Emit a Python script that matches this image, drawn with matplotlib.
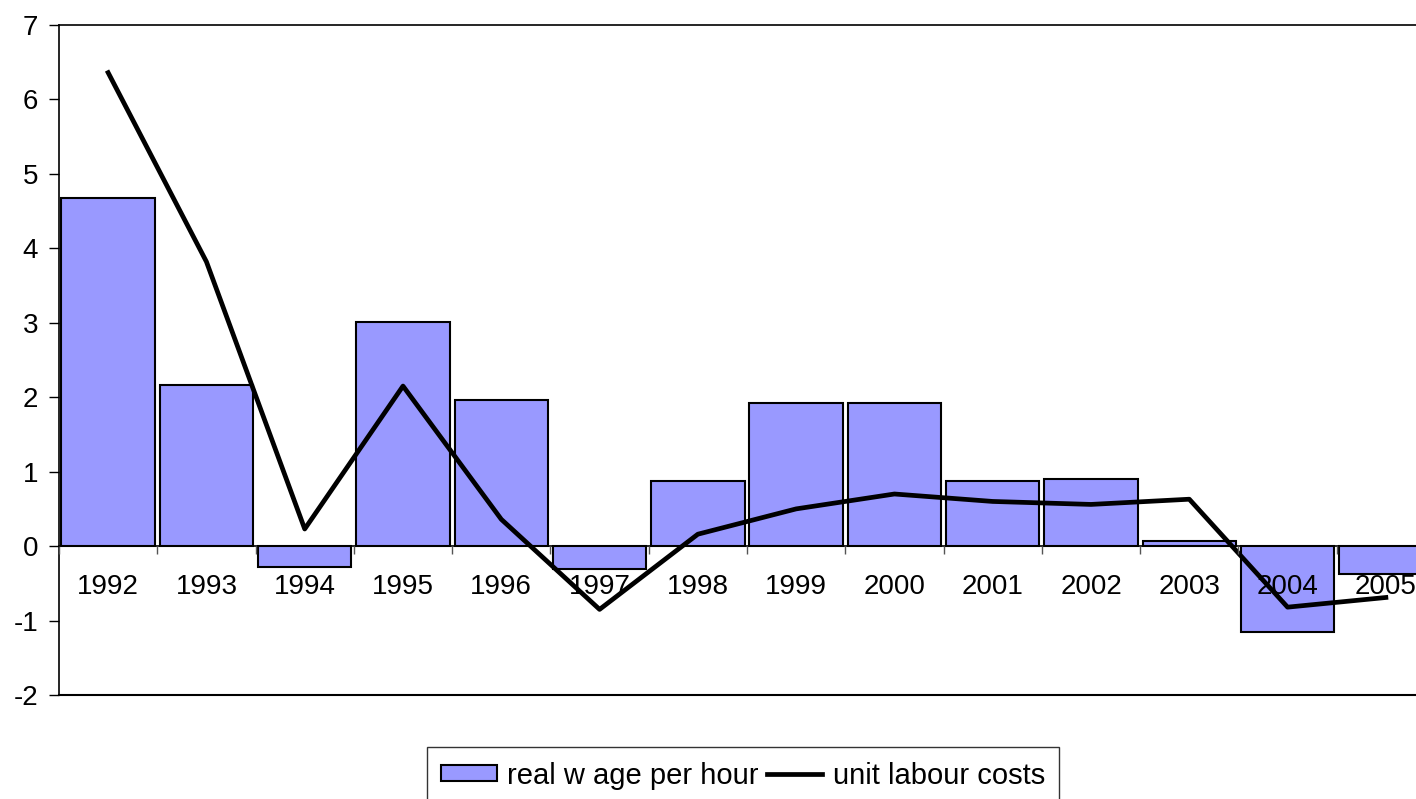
import matplotlib
matplotlib.use('Agg')
import matplotlib.pyplot as plt
from matplotlib.ticker import FixedLocator

plt.rcParams['font.family'] = ['Liberation Sans', 'DejaVu Sans']
plt.rcParams['axes.unicode_minus'] = False

# Données
years = ['1992', '1993', '1994', '1995', '1996', '1997', '1998',
         '1999', '2000', '2001', '2002', '2003', '2004', '2005']
real_wage = [4.68, 2.16, -0.28, 3.01, 1.96, -0.31, 0.87,
             1.92, 1.92, 0.87, 0.90, 0.07, -1.16, -0.38]
unit_labour = [6.36, 3.82, 0.23, 2.15, 0.36, -0.85, 0.16,
               0.50, 0.70, 0.60, 0.56, 0.63, -0.82, -0.69]
y_ticks = [-2, -1, 0, 1, 2, 3, 4, 5, 6, 7]

W, H = 1416, 799
fig = plt.figure(figsize=(W / 100, H / 100), dpi=100)
left, right = 59 / W, 1435 / W
bottom, top = 1 - 695 / H, 1 - 25 / H
ax = fig.add_axes([left, bottom, right - left, top - bottom])

x = list(range(len(years)))
bars = ax.bar(x, real_wage, width=0.95, color='#9999FF', edgecolor='black',
              linewidth=1.5, label='real w age per hour', zorder=1)
line, = ax.plot(x, unit_labour, color='black', linewidth=3.4,
                label='unit labour costs', zorder=2)

ax.set_xlim(-0.5, len(years) - 0.5)
ax.set_ylim(-2, 7)
ax.set_yticks(y_ticks)
ax.tick_params(axis='y', labelsize=20, length=7, width=1, pad=8)

# axe des x sur la ligne zéro
ax.spines['bottom'].set_position(('data', 0))
ax.set_xticks(x)
ax.set_xticklabels(years)
ax.xaxis.set_minor_locator(FixedLocator([i - 0.5 for i in x]))
ax.tick_params(axis='x', which='major', length=0, labelsize=20, pad=20)
ax.tick_params(axis='x', which='minor', length=6, width=1, direction='out',
               color='#555555')
ax.set_axisbelow(False)

# cadre de la zone de tracé
ax.axhline(-2, color='black', linewidth=1.5, clip_on=False)
for s in ['left', 'top', 'right', 'bottom']:
    ax.spines[s].set_linewidth(1.2)
    ax.spines[s].set_color('black')

leg = fig.legend(handles=[bars, line], loc='upper center',
                 bbox_to_anchor=(743 / W, 1 - 747 / H), ncol=2, fontsize=21,
                 frameon=True, fancybox=False, edgecolor='black',
                 handlelength=1.9, handleheight=0.45, handletextpad=0.35,
                 columnspacing=0.3, borderpad=0.5, borderaxespad=0)
leg.get_frame().set_linewidth(1)

fig.savefig('out.png', dpi=100)
